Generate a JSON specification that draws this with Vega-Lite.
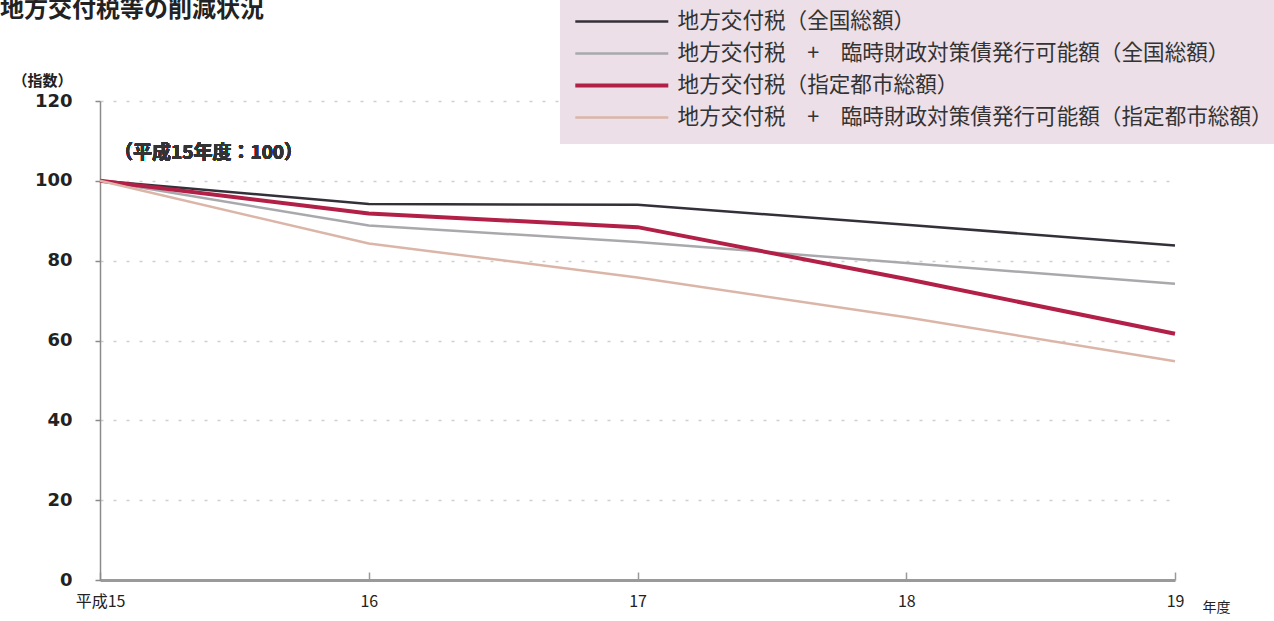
{
  "$schema": "https://vega.github.io/schema/vega-lite/v6.json",
  "autosize": {"type": "none"},
  "width": 1075,
  "height": 479,
  "padding": {"left": 100, "top": 101, "right": 99, "bottom": 41},
  "background": "#ffffff",
  "title": {
    "text": "地方交付税等の削減状況",
    "anchor": "start",
    "frame": "group",
    "font": "Noto Sans CJK JP",
    "fontSize": 24,
    "fontWeight": "bold",
    "color": "#222222",
    "dx": -100,
    "offset": -45,
    "baseline": "alphabetic"
  },
  "config": {
    "view": {"stroke": null},
    "font": "Noto Sans CJK JP"
  },
  "data": {
    "values": [
      {"year": 15, "series": "地方交付税（全国総額）", "index": 100},
      {"year": 16, "series": "地方交付税（全国総額）", "index": 94.2},
      {"year": 17, "series": "地方交付税（全国総額）", "index": 94.0},
      {"year": 18, "series": "地方交付税（全国総額）", "index": 89.0},
      {"year": 19, "series": "地方交付税（全国総額）", "index": 83.8},
      {"year": 15, "series": "地方交付税　+　臨時財政対策債発行可能額（全国総額）", "index": 100},
      {"year": 16, "series": "地方交付税　+　臨時財政対策債発行可能額（全国総額）", "index": 88.8},
      {"year": 17, "series": "地方交付税　+　臨時財政対策債発行可能額（全国総額）", "index": 84.7},
      {"year": 18, "series": "地方交付税　+　臨時財政対策債発行可能額（全国総額）", "index": 79.4},
      {"year": 19, "series": "地方交付税　+　臨時財政対策債発行可能額（全国総額）", "index": 74.2},
      {"year": 15, "series": "地方交付税（指定都市総額）", "index": 100},
      {"year": 16, "series": "地方交付税（指定都市総額）", "index": 91.8},
      {"year": 17, "series": "地方交付税（指定都市総額）", "index": 88.4},
      {"year": 18, "series": "地方交付税（指定都市総額）", "index": 75.4},
      {"year": 19, "series": "地方交付税（指定都市総額）", "index": 61.7},
      {"year": 15, "series": "地方交付税　+　臨時財政対策債発行可能額（指定都市総額）", "index": 100},
      {"year": 16, "series": "地方交付税　+　臨時財政対策債発行可能額（指定都市総額）", "index": 84.3},
      {"year": 17, "series": "地方交付税　+　臨時財政対策債発行可能額（指定都市総額）", "index": 75.8},
      {"year": 18, "series": "地方交付税　+　臨時財政対策債発行可能額（指定都市総額）", "index": 65.8},
      {"year": 19, "series": "地方交付税　+　臨時財政対策債発行可能額（指定都市総額）", "index": 54.8}
    ]
  },
  "layer": [
    {
      "mark": {"type": "line", "strokeJoin": "round", "clip": false},
      "encoding": {
        "x": {
          "field": "year",
          "type": "quantitative",
          "scale": {"domain": [15, 19], "nice": false, "zero": false},
          "axis": {
            "values": [15, 16, 17, 18, 19],
            "labelExpr": "datum.value == 15 ? '平成15' : '' + datum.value",
            "grid": false,
            "domainColor": "#9a9a9a",
            "domainWidth": 3,
            "tickColor": "#9a9a9a",
            "tickWidth": 1.5,
            "tickSize": -8,
            "labelPadding": 21,
            "labelFont": "Noto Sans CJK JP",
            "labelFontSize": 16,
            "labelColor": "#222222",
            "labelBaseline": "top",
            "labelFlush": false,
            "title": "年度",
            "titleFont": "Noto Sans CJK JP",
            "titleFontSize": 14,
            "titleFontWeight": "normal",
            "titleColor": "#222222",
            "titleX": 1116,
            "titleY": 27,
            "titleAlign": "center",
            "titleBaseline": "middle"
          }
        },
        "y": {
          "field": "index",
          "type": "quantitative",
          "scale": {"domain": [0, 120], "nice": false},
          "axis": {
            "values": [0, 20, 40, 60, 80, 100, 120],
            "grid": true,
            "gridColor": "#cfcfcf",
            "gridDash": [3, 10],
            "gridWidth": 1.5,
            "domainColor": "#8a8a8a",
            "domainWidth": 1.5,
            "tickColor": "#8a8a8a",
            "tickSize": 5,
            "tickWidth": 1.5,
            "labelPadding": 23,
            "labelFont": "DejaVu Sans",
            "labelFontWeight": "bold",
            "labelFontSize": 18,
            "labelColor": "#222222",
            "title": "（指数）",
            "titleFont": "Noto Sans CJK JP",
            "titleFontSize": 15,
            "titleFontWeight": "bold",
            "titleColor": "#222222",
            "titleAngle": 0,
            "titleX": -58,
            "titleY": -21,
            "titleAlign": "center",
            "titleBaseline": "middle"
          }
        },
        "color": {
          "field": "series",
          "type": "nominal",
          "scale": {
            "domain": [
              "地方交付税（全国総額）",
              "地方交付税　+　臨時財政対策債発行可能額（全国総額）",
              "地方交付税（指定都市総額）",
              "地方交付税　+　臨時財政対策債発行可能額（指定都市総額）"
            ],
            "range": ["#34303a", "#a9a9ad", "#b21f47", "#dbb6a8"]
          },
          "legend": {
            "title": null,
            "orient": "none",
            "direction": "vertical",
            "legendX": 460,
            "legendY": -105,
            "fillColor": "#ecdfe8",
            "strokeColor": null,
            "padding": 15,
            "symbolType": "stroke",
            "symbolSize": 8649,
            "symbolStrokeWidth": 3,
            "symbolOffset": 36,
            "clipHeight": 21,
            "rowPadding": 9,
            "labelOffset": 45,
            "labelLimit": 0,
            "labelFont": "Noto Sans CJK JP",
            "labelFontSize": 21.6,
            "labelColor": "#333333",
            "encode": {
              "symbols": {
                "update": {
                  "strokeWidth": {"signal": "datum.value === '地方交付税（指定都市総額）' ? 4 : 2.5"}
                }
              }
            }
          }
        },
        "strokeWidth": {
          "condition": {"test": "datum.series === '地方交付税（指定都市総額）'", "value": 4},
          "value": 2.5
        }
      }
    },
    {
      "mark": {
        "type": "text",
        "align": "left",
        "baseline": "middle",
        "dx": 14,
        "font": "Noto Sans CJK JP",
        "fontSize": 19,
        "fontWeight": "bold",
        "color": "#333333",
        "text": "（平成15年度：100）"
      },
      "encoding": {
        "x": {"datum": 15, "type": "quantitative"},
        "y": {"datum": 107, "type": "quantitative"}
      }
    }
  ]
}
